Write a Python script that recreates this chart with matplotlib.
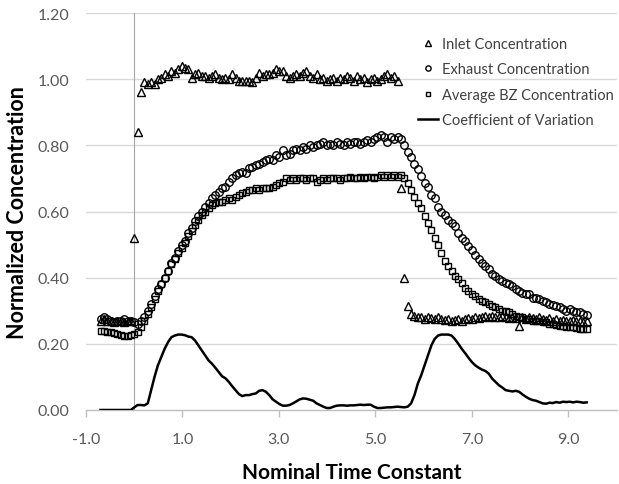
import numpy as np
import matplotlib.pyplot as plt

plt.rcParams["font.family"] = ["Lato", "DejaVu Sans"]

# sampling of the nominal time constant (one reading every 0.07)
t_start = -0.70
t_step = 0.07

inlet = [
    0.27, 0.275, 0.27, 0.27, 0.265, 0.27, 0.27, 0.265, 0.27, 0.27,
    0.52, 0.84, 0.96, 0.99, 0.985, 0.99, 0.985, 1.0, 1.005, 1.015,
    1.01, 1.025, 1.02, 1.03, 1.04, 1.035, 1.03, 1.005, 1.015, 1.02,
    1.01, 1.01, 1.005, 1.01, 1.015, 1.005, 1.0, 1.005, 1.0, 1.015,
    1.005, 0.995, 0.995, 0.995, 0.993, 0.99, 1.005, 1.02, 1.01, 1.015,
    1.015, 1.02, 1.03, 1.025, 1.025, 1.01, 1.005, 1.01, 1.015, 1.01,
    1.02, 1.025, 1.01, 1.005, 1.015, 1.0, 1.005, 0.995, 1.0, 1.005,
    0.995, 1.005, 1.0, 1.01, 1.005, 0.995, 1.01, 1.0, 1.005, 0.99,
    1.0, 1.005, 0.995, 1.0, 1.01, 1.015, 1.005, 1.01, 0.995, 0.67,
    0.40, 0.315, 0.29, 0.285, 0.28, 0.28, 0.275, 0.28, 0.278, 0.275,
    0.28, 0.275, 0.272, 0.275, 0.27, 0.272, 0.275, 0.268, 0.275, 0.278,
    0.275, 0.28, 0.278, 0.282, 0.285, 0.28, 0.285, 0.282, 0.28, 0.285,
    0.28, 0.278, 0.282, 0.278, 0.255, 0.28, 0.275, 0.28, 0.278, 0.275,
    0.28, 0.275, 0.272, 0.278, 0.27, 0.275, 0.27, 0.272, 0.268, 0.27,
    0.272, 0.268, 0.27, 0.265, 0.268,
]

exhaust = [
    0.275, 0.28, 0.275, 0.27, 0.265, 0.27, 0.27, 0.275, 0.27, 0.27,
    0.265, 0.26, 0.27, 0.28, 0.30, 0.32, 0.345, 0.365, 0.38, 0.40,
    0.42, 0.445, 0.46, 0.48, 0.50, 0.51, 0.535, 0.55, 0.57, 0.585,
    0.60, 0.615, 0.625, 0.64, 0.65, 0.66, 0.67, 0.675, 0.69, 0.70,
    0.71, 0.715, 0.72, 0.715, 0.73, 0.735, 0.74, 0.745, 0.75, 0.755,
    0.76, 0.755, 0.77, 0.765, 0.785, 0.77, 0.775, 0.785, 0.79, 0.785,
    0.795, 0.79, 0.80, 0.795, 0.80, 0.805, 0.81, 0.80, 0.805, 0.80,
    0.81, 0.805, 0.80, 0.81, 0.805, 0.81, 0.81, 0.805, 0.81, 0.815,
    0.81, 0.82, 0.825, 0.83, 0.825, 0.81, 0.825, 0.82, 0.825, 0.82,
    0.80, 0.78, 0.765, 0.745, 0.728, 0.708, 0.685, 0.675, 0.65, 0.64,
    0.615, 0.60, 0.59, 0.575, 0.565, 0.555, 0.535, 0.52, 0.51, 0.495,
    0.485, 0.47, 0.455, 0.445, 0.435, 0.425, 0.41, 0.405, 0.395, 0.39,
    0.385, 0.38, 0.375, 0.365, 0.36, 0.355, 0.35, 0.35, 0.34, 0.34,
    0.335, 0.33, 0.325, 0.32, 0.318, 0.315, 0.31, 0.305, 0.30, 0.305,
    0.30, 0.295, 0.295, 0.29, 0.288,
]

avg_bz = [
    0.24, 0.238, 0.235, 0.235, 0.232, 0.23, 0.228, 0.225, 0.225, 0.228,
    0.23, 0.235, 0.25, 0.27, 0.29, 0.31, 0.335, 0.36, 0.38, 0.40,
    0.42, 0.44, 0.455, 0.475, 0.49, 0.505, 0.525, 0.54, 0.56, 0.575,
    0.59, 0.60, 0.61, 0.62, 0.625, 0.63, 0.63, 0.635, 0.64, 0.635,
    0.645, 0.65, 0.655, 0.66, 0.665, 0.665, 0.67, 0.665, 0.67, 0.67,
    0.672, 0.675, 0.68, 0.685, 0.69, 0.70, 0.695, 0.70, 0.695, 0.70,
    0.70, 0.695, 0.70, 0.70, 0.69, 0.695, 0.70, 0.695, 0.70, 0.70,
    0.70, 0.695, 0.70, 0.70, 0.705, 0.70, 0.70, 0.705, 0.70, 0.705,
    0.705, 0.70, 0.705, 0.71, 0.705, 0.71, 0.705, 0.71, 0.705, 0.71,
    0.70, 0.685, 0.665, 0.645, 0.625, 0.61, 0.585, 0.565, 0.545, 0.52,
    0.50, 0.475, 0.45, 0.435, 0.42, 0.405, 0.395, 0.385, 0.37, 0.36,
    0.352, 0.345, 0.335, 0.33, 0.325, 0.32, 0.315, 0.31, 0.305, 0.30,
    0.30, 0.295, 0.29, 0.285, 0.28, 0.28, 0.275, 0.275, 0.27, 0.27,
    0.268, 0.265, 0.265, 0.26, 0.26, 0.258, 0.255, 0.255, 0.252, 0.25,
    0.25, 0.248, 0.245, 0.245, 0.245,
]

cov = [
    0.0, 0.0, 0.0, 0.0, 0.0, 0.0, 0.0, 0.0, 0.0, 0.0,
    0.008, 0.015, 0.015, 0.014, 0.02, 0.06, 0.10, 0.135, 0.16, 0.185,
    0.205, 0.22, 0.225, 0.228, 0.228, 0.226, 0.222, 0.22, 0.21, 0.195,
    0.18, 0.165, 0.15, 0.14, 0.128, 0.115, 0.102, 0.096, 0.085, 0.072,
    0.06, 0.048, 0.042, 0.045, 0.045, 0.048, 0.05, 0.058, 0.06, 0.055,
    0.045, 0.032, 0.025, 0.018, 0.013, 0.013, 0.015, 0.02, 0.026, 0.032,
    0.035, 0.034, 0.031, 0.028, 0.02, 0.015, 0.01, 0.006, 0.006, 0.01,
    0.013, 0.014, 0.014, 0.013, 0.014, 0.014, 0.015, 0.016, 0.015, 0.016,
    0.016, 0.01, 0.006, 0.006, 0.007, 0.008, 0.008, 0.009, 0.01, 0.009,
    0.008, 0.01, 0.02, 0.045, 0.08, 0.105, 0.135, 0.165, 0.195, 0.215,
    0.225, 0.228, 0.228, 0.228, 0.225, 0.214, 0.2, 0.185, 0.172, 0.158,
    0.145, 0.135, 0.128, 0.122, 0.118, 0.11, 0.095, 0.085, 0.075, 0.068,
    0.06, 0.058, 0.056, 0.058, 0.055, 0.047, 0.04, 0.034, 0.03, 0.028,
    0.024, 0.02, 0.019, 0.022, 0.021, 0.024, 0.022, 0.025, 0.024, 0.025,
    0.023, 0.025, 0.024, 0.022, 0.023,
]

x_ticks = [-1.0, 1.0, 3.0, 5.0, 7.0, 9.0]
y_ticks = [0.0, 0.2, 0.4, 0.6, 0.8, 1.0, 1.2]


def times(values):
    return np.round(t_start + t_step * np.arange(len(values)), 2)


fig = plt.figure(figsize=(6.19, 4.85), dpi=100)
ax = fig.add_axes([0.139, 0.1526, 0.857, 0.8185])

ax.set_xlim(-1.0, 10.0)
ax.set_ylim(0.0, 1.2)

# grid + the axis crossing at zero
for y in y_ticks[1:]:
    ax.axhline(y, color="#d9d9d9", lw=1.0, zorder=0)
ax.axvline(0.0, color="#a6a6a6", lw=0.8, zorder=1)

mk = dict(ls="none", mfc="none", mec="black", mew=1.0, zorder=3)
ax.plot(times(inlet), inlet, marker="^", ms=5.5, label="Inlet Concentration", **mk)
ax.plot(times(exhaust), exhaust, marker="o", ms=5.4, label="Exhaust Concentration", **mk)
ax.plot(times(avg_bz), avg_bz, marker="s", ms=5.0, label="Average BZ Concentration", **mk)
ax.plot(times(cov), cov, color="black", lw=1.8, label="Coefficient of Variation", zorder=4)

ax.set_xticks(x_ticks)
ax.set_xticklabels([f"{v:.1f}" for v in x_ticks])
ax.set_yticks(y_ticks)
ax.set_yticklabels([f"{v:.2f}" for v in y_ticks])

for s in ["top", "right", "left"]:
    ax.spines[s].set_visible(False)
ax.spines["bottom"].set_color("#bfbfbf")
ax.spines["bottom"].set_linewidth(1.0)

ax.tick_params(axis="x", length=5, color="#bfbfbf", width=1.0, pad=11,
               labelsize=11.5, labelcolor="#595959")
ax.tick_params(axis="y", length=0, pad=12, labelsize=11.5, labelcolor="#595959")

ax.set_xlabel("Nominal Time Constant", fontsize=15, fontweight="bold")
ax.xaxis.set_label_coords(0.5, -0.155)
ax.xaxis.label.set_va("center")
ax.set_ylabel("Normalized Concentration", fontsize=15.5, fontweight="bold")
ax.yaxis.set_label_coords(-0.13, 0.5)
ax.yaxis.label.set_va("center")

leg = ax.legend(loc="upper left", bbox_to_anchor=(418 / 619, 1 - 38 / 485),
                bbox_transform=fig.transFigure, frameon=False, fontsize=10.5,
                handlelength=1.35, handletextpad=0.3, borderpad=0, borderaxespad=0,
                labelspacing=0.78, markerscale=0.7, labelcolor="#404040")

fig.savefig("out.png", dpi=100)
